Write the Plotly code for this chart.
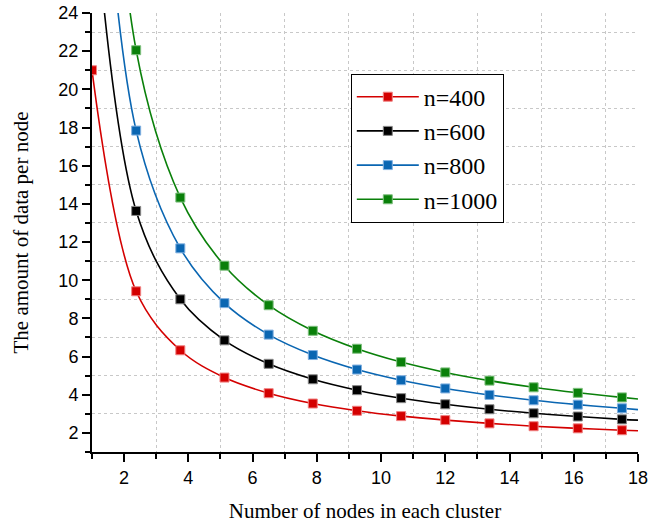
import plotly.graph_objects as go

nodes = [1, 2.375, 3.75, 5.125, 6.5, 7.875, 9.25, 10.625, 12, 13.375, 14.75, 16.125, 17.5]
x_end = 18

n400 = [21.0, 9.42, 6.33, 4.90, 4.08, 3.54, 3.16, 2.88, 2.67, 2.50, 2.35, 2.24, 2.14]
n600 = [31.0, 13.63, 9.00, 6.85, 5.62, 4.81, 4.24, 3.82, 3.50, 3.24, 3.03, 2.86, 2.71]
n800 = [41.0, 17.84, 11.67, 8.80, 7.15, 6.08, 5.32, 4.76, 4.33, 3.99, 3.71, 3.48, 3.29]
n1000 = [51.0, 22.05, 14.33, 10.76, 8.69, 7.35, 6.41, 5.71, 5.17, 4.74, 4.39, 4.10, 3.86]
end_vals = [2.11, 2.67, 3.22, 3.78]

series_names = ["n=400", "n=600", "n=800", "n=1000"]
series_vals = [n400, n600, n800, n1000]
colors = ["#d40000", "#000000", "#0a66b2", "#0a800a"]
border = ["#f08080", "#888888", "#80b0e0", "#80c080"]

fig = go.Figure()
for name, vals, c, b, ev in zip(series_names, series_vals, colors, border, end_vals):
    fig.add_trace(go.Scatter(
        x=nodes + [x_end], y=vals + [ev], mode="lines",
        line=dict(color=c, width=1.6, shape="spline"),
        showlegend=False, hoverinfo="skip"))
    fig.add_trace(go.Scatter(
        x=nodes, y=vals, mode="markers", name=name, cliponaxis=True,
        marker=dict(symbol="square", size=9, color=c, line=dict(color=b, width=1)),
        showlegend=False))
    fig.add_trace(go.Scatter(
        x=[None], y=[None], mode="lines+markers", name=name,
        line=dict(color=c, width=1.6),
        marker=dict(symbol="square", size=9, color=c, line=dict(color=b, width=1))))

tickfont = dict(family="Liberation Sans", size=18, color="black")
titlefont = dict(family="Liberation Serif", size=21, color="black")

fig.update_layout(
    width=667, height=523,
    margin=dict(l=92, r=29, t=13, b=71),
    plot_bgcolor="white", paper_bgcolor="white",
    showlegend=True,
    font=dict(family="Liberation Serif", color="black"),
    legend=dict(x=0.474, y=0.862, xanchor="left", yanchor="top",
                bgcolor="white", bordercolor="black", borderwidth=1,
                font=dict(family="Liberation Serif", size=24, color="black"),
                itemwidth=62, tracegroupgap=0),
    xaxis=dict(range=[1, 18], tick0=0, dtick=2, ticks="outside", ticklen=8, tickwidth=1.5,
               tickcolor="black", showgrid=False, zeroline=False, automargin=False,
               showline=True, linecolor="black", linewidth=2,
               tickfont=tickfont,
               title=dict(text="Number of nodes in each cluster", font=titlefont, standoff=20),
               minor=dict(dtick=1, tick0=0, ticks="outside", ticklen=5, tickwidth=1.5, tickcolor="black",
                          showgrid=True, gridcolor="#c8c8c8", griddash="dot", gridwidth=1)),
    yaxis=dict(range=[1, 24], tick0=0, dtick=2, ticks="outside", ticklen=8, tickwidth=1.5,
               tickcolor="black", showgrid=False, zeroline=False, automargin=False,
               showline=True, linecolor="black", linewidth=2,
               tickfont=tickfont,
               title=dict(text="The amount of data per node", font=titlefont, standoff=24),
               minor=dict(dtick=1, tick0=0, ticks="outside", ticklen=5, tickwidth=1.5, tickcolor="black",
                          showgrid=True, gridcolor="#c8c8c8", griddash="dot", gridwidth=1)),
    xaxis2=dict(overlaying="x", side="top", range=[1, 18], tick0=0, dtick=2, ticks="inside",
                ticklen=7, tickwidth=1.5, tickcolor="black", showticklabels=False, automargin=False,
                showgrid=False, zeroline=False, showline=True, linecolor="black", linewidth=2,
                minor=dict(dtick=1, tick0=0, ticks="inside", ticklen=4, tickwidth=1.5, tickcolor="black")),
    yaxis2=dict(overlaying="y", side="right", range=[1, 24], tick0=0, dtick=2, ticks="inside",
                ticklen=7, tickwidth=1.5, tickcolor="black", showticklabels=False, automargin=False,
                showgrid=False, zeroline=False, showline=True, linecolor="black", linewidth=2,
                minor=dict(dtick=1, tick0=0, ticks="inside", ticklen=4, tickwidth=1.5, tickcolor="black")),
)

fig.write_html("out.html")
